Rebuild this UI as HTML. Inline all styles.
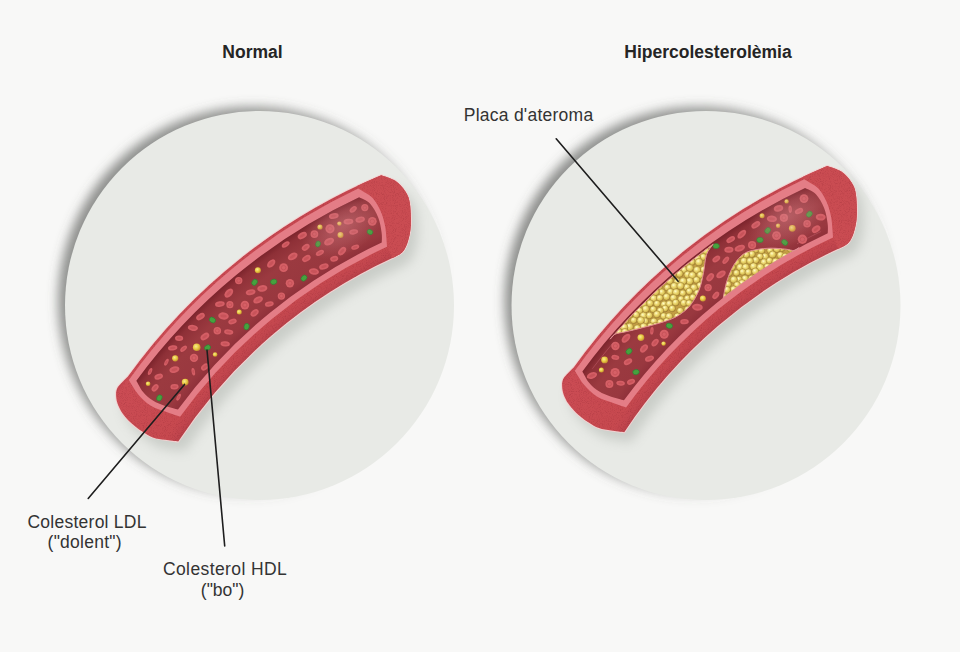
<!DOCTYPE html><html><head><meta charset="utf-8"><style>
html,body{margin:0;padding:0;background:#f8f8f7;}
body{width:960px;height:652px;overflow:hidden;position:relative;font-family:"Liberation Sans",sans-serif;}
svg{position:absolute;left:0;top:0;}
</style></head><body>
<svg width="960" height="652" viewBox="0 0 960 652">
<defs>
<filter id="csh" x="-20%" y="-20%" width="140%" height="140%"><feGaussianBlur stdDeviation="5.5"/></filter>
<filter id="speck" x="0" y="0" width="100%" height="100%"><feTurbulence type="fractalNoise" baseFrequency="1.1" numOctaves="1" seed="4" result="n"/><feColorMatrix in="n" type="matrix" values="0 0 0 0 0  0 0 0 0 0  0 0 0 0 0  0 0 0 -3 1.55" result="a"/><feComposite in="SourceGraphic" in2="a" operator="in"/></filter>
<filter id="blur6" x="-20%" y="-20%" width="140%" height="140%"><feGaussianBlur stdDeviation="6"/></filter>
<radialGradient id="lum" gradientUnits="userSpaceOnUse" cx="606.5" cy="724.8" r="582.6">
<stop offset="0.9131" stop-color="#90313a"/><stop offset="0.9269" stop-color="#99383f"/><stop offset="0.9646" stop-color="#9b3a40"/><stop offset="0.9897" stop-color="#8e3037"/><stop offset="1" stop-color="#7c242c"/></radialGradient>
<radialGradient id="wall" gradientUnits="userSpaceOnUse" cx="606.5" cy="724.8" r="592.4">
<stop offset="0.8668" stop-color="#b9424a"/><stop offset="0.8753" stop-color="#c2464e"/><stop offset="0.8879" stop-color="#c7494f"/><stop offset="0.9963" stop-color="#cb4c54"/><stop offset="1" stop-color="#c5464f"/></radialGradient>
<linearGradient id="shg" x1="0" y1="0.2" x2="1" y2="0.8"><stop offset="0" stop-color="#5a5c59" stop-opacity="0.7"/><stop offset="0.5" stop-color="#5a5c59" stop-opacity="0.55"/><stop offset="0.85" stop-color="#5a5c59" stop-opacity="0"/></linearGradient>
<radialGradient id="haze"><stop offset="0" stop-color="#d88a90" stop-opacity="0.45"/><stop offset="0.6" stop-color="#d08088" stop-opacity="0.22"/><stop offset="1" stop-color="#c87880" stop-opacity="0"/></radialGradient>
<radialGradient id="yb" cx="0.4" cy="0.38" r="0.6"><stop offset="0" stop-color="#f8ec90"/><stop offset="0.6" stop-color="#e6c840"/><stop offset="1" stop-color="#c89432"/></radialGradient>
<radialGradient id="ball" cx="0.4" cy="0.35" r="0.68"><stop offset="0" stop-color="#fffbcc"/><stop offset="0.35" stop-color="#f0df7c"/><stop offset="0.75" stop-color="#d8bd52"/><stop offset="1" stop-color="#a88634"/></radialGradient>
</defs>
<rect width="960" height="652" fill="#f8f8f7"/>
<circle cx="253" cy="301.5" r="195" fill="url(#shg)" filter="url(#csh)"/>
<circle cx="259.5" cy="305.5" r="194.5" fill="#e8eae6"/>
<circle cx="699.5" cy="301.5" r="195" fill="url(#shg)" filter="url(#csh)"/>
<circle cx="706" cy="305.5" r="194.5" fill="#e8eae6"/>
<g transform="translate(0,0)">
<path d="M127.72,376.81 A595.1,595.1 0 0 1 381.25,175.20 C383.64,176.16 391.64,178.37 395.60,181.00 C399.56,183.63 402.65,187.42 405.00,191.00 C407.35,194.58 408.73,196.83 409.70,202.50 C410.67,208.17 411.08,218.58 410.80,225.00 C410.52,231.42 409.38,236.50 408.00,241.00 C406.62,245.50 405.11,249.15 402.50,252.00 C399.89,254.85 394.04,257.07 392.35,258.09 A513.5,513.5 0 0 0 178.23,441.48 C176.06,441.20 169.42,440.48 165.20,439.80 C160.98,439.12 156.78,438.82 152.90,437.40 C149.02,435.98 145.57,433.75 141.90,431.30 C138.23,428.85 134.17,425.77 130.90,422.70 C127.63,419.63 124.55,416.18 122.30,412.90 C120.05,409.62 118.43,406.08 117.40,403.00 C116.37,399.92 116.10,396.90 116.10,394.40 C116.10,391.90 116.42,389.98 117.40,388.00 C118.38,386.02 120.28,384.36 122.00,382.50 C123.72,380.64 126.77,377.76 127.72,376.81Z" fill="#7d847b" opacity="0.28" transform="translate(7,10)" filter="url(#blur6)"/>
<path d="M127.72,376.81 A595.1,595.1 0 0 1 381.25,175.20 C383.64,176.16 391.64,178.37 395.60,181.00 C399.56,183.63 402.65,187.42 405.00,191.00 C407.35,194.58 408.73,196.83 409.70,202.50 C410.67,208.17 411.08,218.58 410.80,225.00 C410.52,231.42 409.38,236.50 408.00,241.00 C406.62,245.50 405.11,249.15 402.50,252.00 C399.89,254.85 394.04,257.07 392.35,258.09 A513.5,513.5 0 0 0 178.23,441.48 C176.06,441.20 169.42,440.48 165.20,439.80 C160.98,439.12 156.78,438.82 152.90,437.40 C149.02,435.98 145.57,433.75 141.90,431.30 C138.23,428.85 134.17,425.77 130.90,422.70 C127.63,419.63 124.55,416.18 122.30,412.90 C120.05,409.62 118.43,406.08 117.40,403.00 C116.37,399.92 116.10,396.90 116.10,394.40 C116.10,391.90 116.42,389.98 117.40,388.00 C118.38,386.02 120.28,384.36 122.00,382.50 C123.72,380.64 126.77,377.76 127.72,376.81Z" fill="none" stroke="#f3d2d2" stroke-width="2"/>
<path d="M127.72,376.81 A595.1,595.1 0 0 1 381.25,175.20 C383.64,176.16 391.64,178.37 395.60,181.00 C399.56,183.63 402.65,187.42 405.00,191.00 C407.35,194.58 408.73,196.83 409.70,202.50 C410.67,208.17 411.08,218.58 410.80,225.00 C410.52,231.42 409.38,236.50 408.00,241.00 C406.62,245.50 405.11,249.15 402.50,252.00 C399.89,254.85 394.04,257.07 392.35,258.09 A513.5,513.5 0 0 0 178.23,441.48 C176.06,441.20 169.42,440.48 165.20,439.80 C160.98,439.12 156.78,438.82 152.90,437.40 C149.02,435.98 145.57,433.75 141.90,431.30 C138.23,428.85 134.17,425.77 130.90,422.70 C127.63,419.63 124.55,416.18 122.30,412.90 C120.05,409.62 118.43,406.08 117.40,403.00 C116.37,399.92 116.10,396.90 116.10,394.40 C116.10,391.90 116.42,389.98 117.40,388.00 C118.38,386.02 120.28,384.36 122.00,382.50 C123.72,380.64 126.77,377.76 127.72,376.81Z" fill="url(#wall)"/>
<path d="M357.04,185.96 A595.1,595.1 0 0 1 381.25,175.20 C383.64,176.16 391.64,178.37 395.60,181.00 C399.56,183.63 402.65,187.42 405.00,191.00 C407.35,194.58 408.73,196.83 409.70,202.50 C410.67,208.17 411.08,218.58 410.80,225.00 C410.52,231.42 409.38,236.50 408.00,241.00 C406.62,245.50 405.11,249.15 402.50,252.00 C399.89,254.85 394.04,257.07 392.35,258.09 A513.5,513.5 0 0 0 392.22,258.14 L385.50,243.50 C385.65,242.58 386.48,240.98 386.40,238.00 C386.32,235.02 385.92,229.97 385.00,225.60 C384.08,221.23 382.97,216.40 380.90,211.80 C378.83,207.20 376.28,201.68 372.60,198.00 C368.92,194.32 361.10,191.08 358.80,189.70Z" fill="#ca4c52"/>
<path d="M127.72,376.81 A595.1,595.1 0 0 1 381.25,175.20 C383.64,176.16 391.64,178.37 395.60,181.00 C399.56,183.63 402.65,187.42 405.00,191.00 C407.35,194.58 408.73,196.83 409.70,202.50 C410.67,208.17 411.08,218.58 410.80,225.00 C410.52,231.42 409.38,236.50 408.00,241.00 C406.62,245.50 405.11,249.15 402.50,252.00 C399.89,254.85 394.04,257.07 392.35,258.09 A513.5,513.5 0 0 0 178.23,441.48 C176.06,441.20 169.42,440.48 165.20,439.80 C160.98,439.12 156.78,438.82 152.90,437.40 C149.02,435.98 145.57,433.75 141.90,431.30 C138.23,428.85 134.17,425.77 130.90,422.70 C127.63,419.63 124.55,416.18 122.30,412.90 C120.05,409.62 118.43,406.08 117.40,403.00 C116.37,399.92 116.10,396.90 116.10,394.40 C116.10,391.90 116.42,389.98 117.40,388.00 C118.38,386.02 120.28,384.36 122.00,382.50 C123.72,380.64 126.77,377.76 127.72,376.81Z" fill="#7a1a26" filter="url(#speck)" opacity="0.22"/>
<path d="M128.85,380.04 A592.3000000000001,592.3000000000001 0 0 1 358.23,188.50 C360.63,190.08 368.82,194.12 372.60,198.00 C376.38,201.88 378.83,207.20 380.90,211.80 C382.97,216.40 384.08,221.23 385.00,225.60 C385.92,229.97 386.07,234.47 386.40,238.00 C386.73,241.53 386.91,245.32 387.01,246.78 A526.0,526.0 0 0 0 180.08,416.83 C177.60,415.96 170.13,413.49 165.20,411.60 C160.27,409.71 155.00,408.37 150.50,405.50 C146.00,402.63 141.81,398.64 138.20,394.40 C134.59,390.16 130.41,382.43 128.85,380.04Z" fill="#e47d86"/>
<path d="M136.36,380.71 A582.6,582.6 0 0 1 359.10,197.34 C360.90,198.36 366.73,200.17 369.90,203.50 C373.07,206.83 376.15,212.47 378.10,217.30 C380.05,222.13 380.99,228.28 381.60,232.50 C382.21,236.72 381.75,240.91 381.78,242.59 A532.0,532.0 0 0 0 177.97,409.55 C175.84,408.97 169.38,407.59 165.20,406.10 C161.02,404.61 156.58,402.95 152.90,400.60 C149.22,398.25 145.86,395.31 143.10,392.00 C140.34,388.69 137.49,382.59 136.36,380.71Z" fill="url(#lum)"/>
<circle cx="185.2" cy="382.1" r="3.4" fill="url(#yb)"/>
<ellipse transform="translate(207.5,347.6) rotate(58)" rx="2.6" ry="3.2" fill="#46a23e" stroke="#2f7c34" stroke-width="0.6"/>
<circle cx="196.7" cy="347.3" r="3.8" fill="url(#yb)"/>
<circle cx="175.2" cy="358.3" r="3.1" fill="url(#yb)"/>
<circle cx="215.1" cy="354.5" r="2.3" fill="url(#yb)"/>
<circle cx="148.1" cy="383.7" r="2.3" fill="url(#yb)"/>
<ellipse transform="translate(159.4,397.9) rotate(27)" rx="2.6" ry="3.2" fill="#46a23e" stroke="#2f7c34" stroke-width="0.6"/>
<circle cx="340.5" cy="235.0" r="3.0" fill="url(#yb)"/>
<circle cx="320.0" cy="227.0" r="2.6" fill="url(#yb)"/>
<ellipse transform="translate(370.0,232.0) rotate(117)" rx="2.4" ry="3.0" fill="#46a23e" stroke="#2f7c34" stroke-width="0.6"/>
<ellipse transform="translate(318.0,244.0) rotate(13)" rx="2.4" ry="3.0" fill="#46a23e" stroke="#2f7c34" stroke-width="0.6"/>
<circle cx="339.4" cy="223.6" r="2.2" fill="url(#yb)"/>
<circle cx="239.3" cy="312.1" r="2.5" fill="url(#yb)"/>
<circle cx="257.9" cy="270.2" r="3.0" fill="url(#yb)"/>
<ellipse transform="translate(246.6,326.6) rotate(13)" rx="2.6" ry="3.3" fill="#46a23e" stroke="#2f7c34" stroke-width="0.6"/>
<ellipse transform="translate(212.4,320.0) rotate(123)" rx="2.6" ry="3.3" fill="#46a23e" stroke="#2f7c34" stroke-width="0.6"/>
<ellipse transform="translate(304.0,278.1) rotate(42)" rx="2.6" ry="3.3" fill="#46a23e" stroke="#2f7c34" stroke-width="0.6"/>
<ellipse transform="translate(273.7,281.8) rotate(71)" rx="2.6" ry="3.3" fill="#46a23e" stroke="#2f7c34" stroke-width="0.6"/>
<ellipse transform="translate(254.6,282.3) rotate(34)" rx="2.6" ry="3.3" fill="#46a23e" stroke="#2f7c34" stroke-width="0.6"/>
<g transform="translate(228.7,332.0) rotate(7)"><ellipse rx="4.6" ry="2.6" fill="#d45e65"/><ellipse rx="2.8" ry="1.1" fill="#c8535a"/></g>
<g transform="translate(225.2,343.8) rotate(5)"><ellipse rx="4.7" ry="2.6" fill="#d45e65"/><ellipse rx="2.8" ry="1.1" fill="#c8535a"/></g>
<g transform="translate(158.7,376.7) rotate(-19)"><ellipse rx="4.4" ry="2.8" fill="#d45e65"/><ellipse rx="2.7" ry="1.2" fill="#c8535a"/></g>
<g transform="translate(269.3,304.0) rotate(-12)"><ellipse rx="4.5" ry="2.6" fill="#d45e65"/><ellipse rx="2.7" ry="1.1" fill="#c8535a"/></g>
<g transform="translate(313.9,271.5) rotate(8)"><ellipse rx="5.1" ry="3.3" fill="#d45e65"/><ellipse rx="3.1" ry="1.4" fill="#c8535a"/></g>
<circle cx="281.4" cy="296.1" r="3.7" fill="#d66066"/><circle cx="281.4" cy="296.1" r="1.9" fill="none" stroke="#c8535a" stroke-width="1"/>
<g transform="translate(323.9,266.5) rotate(-17)"><ellipse rx="4.9" ry="3.0" fill="#d45e65"/><ellipse rx="2.9" ry="1.3" fill="#c8535a"/></g>
<g transform="translate(353.2,209.4) rotate(-39)"><ellipse rx="4.1" ry="2.6" fill="#d45e65"/><ellipse rx="2.5" ry="1.1" fill="#c8535a"/></g>
<circle cx="238.7" cy="280.6" r="3.7" fill="#d66066"/><circle cx="238.7" cy="280.6" r="1.9" fill="none" stroke="#c8535a" stroke-width="1"/>
<g transform="translate(166.4,362.2) rotate(26)"><ellipse rx="1.7" ry="3.8" fill="#d45e65"/><ellipse rx="1.0" ry="1.6" fill="#c8535a"/></g>
<g transform="translate(353.7,231.9) rotate(-10)"><ellipse rx="4.5" ry="2.6" fill="#d45e65"/><ellipse rx="2.7" ry="1.1" fill="#c8535a"/></g>
<circle cx="372.3" cy="221.3" r="4.4" fill="#d66066"/><circle cx="372.3" cy="221.3" r="2.2" fill="none" stroke="#c8535a" stroke-width="1"/>
<g transform="translate(204.9,367.0) rotate(-39)"><ellipse rx="4.3" ry="2.9" fill="#d45e65"/><ellipse rx="2.6" ry="1.2" fill="#c8535a"/></g>
<g transform="translate(285.7,244.5) rotate(-34)"><ellipse rx="4.4" ry="2.4" fill="#d45e65"/><ellipse rx="2.6" ry="1.0" fill="#c8535a"/></g>
<circle cx="229.9" cy="304.7" r="3.6" fill="#d66066"/><circle cx="229.9" cy="304.7" r="1.8" fill="none" stroke="#c8535a" stroke-width="1"/>
<g transform="translate(204.9,336.5) rotate(-35)"><ellipse rx="4.8" ry="3.1" fill="#d45e65"/><ellipse rx="2.9" ry="1.3" fill="#c8535a"/></g>
<g transform="translate(174.5,386.8) rotate(-3)"><ellipse rx="4.1" ry="2.7" fill="#d45e65"/><ellipse rx="2.5" ry="1.1" fill="#c8535a"/></g>
<g transform="translate(262.3,288.4) rotate(-8)"><ellipse rx="5.1" ry="3.3" fill="#d45e65"/><ellipse rx="3.0" ry="1.4" fill="#c8535a"/></g>
<g transform="translate(228.8,293.1) rotate(-47)"><ellipse rx="5.3" ry="3.4" fill="#d45e65"/><ellipse rx="3.2" ry="1.4" fill="#c8535a"/></g>
<circle cx="194.0" cy="357.9" r="4.2" fill="#d66066"/><circle cx="194.0" cy="357.9" r="2.1" fill="none" stroke="#c8535a" stroke-width="1"/>
<circle cx="283.6" cy="267.7" r="4.4" fill="#d66066"/><circle cx="283.6" cy="267.7" r="2.2" fill="none" stroke="#c8535a" stroke-width="1"/>
<g transform="translate(271.2,263.5) rotate(-45)"><ellipse rx="5.0" ry="3.1" fill="#d45e65"/><ellipse rx="3.0" ry="1.3" fill="#c8535a"/></g>
<g transform="translate(319.9,252.9) rotate(-28)"><ellipse rx="4.4" ry="2.5" fill="#d45e65"/><ellipse rx="2.6" ry="1.0" fill="#c8535a"/></g>
<g transform="translate(333.8,216.0) rotate(-8)"><ellipse rx="4.9" ry="2.9" fill="#d45e65"/><ellipse rx="2.9" ry="1.2" fill="#c8535a"/></g>
<circle cx="289.9" cy="283.2" r="4.2" fill="#d66066"/><circle cx="289.9" cy="283.2" r="2.1" fill="none" stroke="#c8535a" stroke-width="1"/>
<g transform="translate(254.6,312.9) rotate(-40)"><ellipse rx="4.6" ry="3.0" fill="#d45e65"/><ellipse rx="2.8" ry="1.3" fill="#c8535a"/></g>
<g transform="translate(355.2,247.2) rotate(-18)"><ellipse rx="4.1" ry="2.3" fill="#d45e65"/><ellipse rx="2.5" ry="1.0" fill="#c8535a"/></g>
<g transform="translate(258.1,299.9) rotate(-26)"><ellipse rx="5.1" ry="3.3" fill="#d45e65"/><ellipse rx="3.0" ry="1.4" fill="#c8535a"/></g>
<g transform="translate(250.6,292.2) rotate(-13)"><ellipse rx="4.9" ry="2.8" fill="#d45e65"/><ellipse rx="3.0" ry="1.2" fill="#c8535a"/></g>
<g transform="translate(292.7,256.4) rotate(-30)"><ellipse rx="5.2" ry="3.4" fill="#d45e65"/><ellipse rx="3.1" ry="1.4" fill="#c8535a"/></g>
<g transform="translate(192.9,327.9) rotate(7)"><ellipse rx="5.1" ry="3.0" fill="#d45e65"/><ellipse rx="3.1" ry="1.3" fill="#c8535a"/></g>
<g transform="translate(150.1,371.5) rotate(24)"><ellipse rx="1.7" ry="3.8" fill="#d45e65"/><ellipse rx="1.0" ry="1.6" fill="#c8535a"/></g>
<g transform="translate(360.2,219.6) rotate(-13)"><ellipse rx="4.8" ry="3.0" fill="#d45e65"/><ellipse rx="2.9" ry="1.3" fill="#c8535a"/></g>
<g transform="translate(232.5,321.5) rotate(-16)"><ellipse rx="4.3" ry="2.6" fill="#d45e65"/><ellipse rx="2.6" ry="1.1" fill="#c8535a"/></g>
<circle cx="364.8" cy="207.6" r="3.6" fill="#d66066"/><circle cx="364.8" cy="207.6" r="1.8" fill="none" stroke="#c8535a" stroke-width="1"/>
<g transform="translate(329.1,241.6) rotate(-26)"><ellipse rx="5.3" ry="3.4" fill="#d45e65"/><ellipse rx="3.2" ry="1.4" fill="#c8535a"/></g>
<g transform="translate(302.3,235.6) rotate(-28)"><ellipse rx="4.9" ry="3.1" fill="#d45e65"/><ellipse rx="2.9" ry="1.3" fill="#c8535a"/></g>
<g transform="translate(183.6,348.7) rotate(-42)"><ellipse rx="4.0" ry="2.2" fill="#d45e65"/><ellipse rx="2.4" ry="0.9" fill="#c8535a"/></g>
<g transform="translate(179.1,338.2) rotate(2)"><ellipse rx="4.1" ry="2.8" fill="#d45e65"/><ellipse rx="2.5" ry="1.2" fill="#c8535a"/></g>
<g transform="translate(334.2,258.8) rotate(-15)"><ellipse rx="4.1" ry="2.8" fill="#d45e65"/><ellipse rx="2.5" ry="1.2" fill="#c8535a"/></g>
<g transform="translate(178.6,397.2) rotate(26)"><ellipse rx="1.7" ry="3.8" fill="#d45e65"/><ellipse rx="1.0" ry="1.6" fill="#c8535a"/></g>
<circle cx="244.9" cy="305.1" r="4.3" fill="#d66066"/><circle cx="244.9" cy="305.1" r="2.1" fill="none" stroke="#c8535a" stroke-width="1"/>
<g transform="translate(306.4,258.5) rotate(-29)"><ellipse rx="4.6" ry="3.0" fill="#d45e65"/><ellipse rx="2.8" ry="1.3" fill="#c8535a"/></g>
<g transform="translate(193.3,371.7) rotate(-10)"><ellipse rx="1.7" ry="3.8" fill="#d45e65"/><ellipse rx="1.0" ry="1.6" fill="#c8535a"/></g>
<g transform="translate(219.9,304.1) rotate(-9)"><ellipse rx="4.9" ry="2.8" fill="#d45e65"/><ellipse rx="2.9" ry="1.2" fill="#c8535a"/></g>
<g transform="translate(342.1,251.1) rotate(-47)"><ellipse rx="4.9" ry="3.0" fill="#d45e65"/><ellipse rx="2.9" ry="1.3" fill="#c8535a"/></g>
<circle cx="330.0" cy="228.8" r="4.6" fill="#d66066"/><circle cx="330.0" cy="228.8" r="2.3" fill="none" stroke="#c8535a" stroke-width="1"/>
<g transform="translate(155.1,387.8) rotate(-49)"><ellipse rx="4.2" ry="2.8" fill="#d45e65"/><ellipse rx="2.5" ry="1.2" fill="#c8535a"/></g>
<g transform="translate(174.4,369.6) rotate(-14)"><ellipse rx="5.1" ry="3.3" fill="#d45e65"/><ellipse rx="3.1" ry="1.4" fill="#c8535a"/></g>
<g transform="translate(200.5,316.6) rotate(-34)"><ellipse rx="4.8" ry="2.9" fill="#d45e65"/><ellipse rx="2.9" ry="1.2" fill="#c8535a"/></g>
<g transform="translate(223.5,316.0) rotate(9)"><ellipse rx="5.3" ry="3.6" fill="#d45e65"/><ellipse rx="3.2" ry="1.5" fill="#c8535a"/></g>
<g transform="translate(348.4,221.6) rotate(-5)"><ellipse rx="4.9" ry="2.8" fill="#d45e65"/><ellipse rx="3.0" ry="1.2" fill="#c8535a"/></g>
<g transform="translate(172.7,347.9) rotate(-8)"><ellipse rx="4.7" ry="2.6" fill="#d45e65"/><ellipse rx="2.8" ry="1.1" fill="#c8535a"/></g>
<g transform="translate(305.7,247.3) rotate(-35)"><ellipse rx="4.3" ry="2.9" fill="#d45e65"/><ellipse rx="2.6" ry="1.2" fill="#c8535a"/></g>
<circle cx="217.3" cy="330.7" r="3.8" fill="#d66066"/><circle cx="217.3" cy="330.7" r="1.9" fill="none" stroke="#c8535a" stroke-width="1"/>
<circle cx="314.4" cy="234.1" r="3.9" fill="#d66066"/><circle cx="314.4" cy="234.1" r="1.9" fill="none" stroke="#c8535a" stroke-width="1"/>
<defs><clipPath id="lc1"><path d="M136.36,380.71 A582.6,582.6 0 0 1 359.10,197.34 C360.90,198.36 366.73,200.17 369.90,203.50 C373.07,206.83 376.15,212.47 378.10,217.30 C380.05,222.13 380.99,228.28 381.60,232.50 C382.21,236.72 381.75,240.91 381.78,242.59 A532.0,532.0 0 0 0 177.97,409.55 C175.84,408.97 169.38,407.59 165.20,406.10 C161.02,404.61 156.58,402.95 152.90,400.60 C149.22,398.25 145.86,395.31 143.10,392.00 C140.34,388.69 137.49,382.59 136.36,380.71Z"/></clipPath></defs>
<g clip-path="url(#lc1)"><ellipse cx="343" cy="225" rx="46" ry="28" transform="rotate(-32 343 225)" fill="url(#haze)"/></g>
</g>
<g transform="translate(446,-9.3)">
<path d="M127.72,376.81 A595.1,595.1 0 0 1 381.25,175.20 C383.64,176.16 391.64,178.37 395.60,181.00 C399.56,183.63 402.65,187.42 405.00,191.00 C407.35,194.58 408.73,196.83 409.70,202.50 C410.67,208.17 411.08,218.58 410.80,225.00 C410.52,231.42 409.38,236.50 408.00,241.00 C406.62,245.50 405.11,249.15 402.50,252.00 C399.89,254.85 394.04,257.07 392.35,258.09 A513.5,513.5 0 0 0 178.23,441.48 C176.06,441.20 169.42,440.48 165.20,439.80 C160.98,439.12 156.78,438.82 152.90,437.40 C149.02,435.98 145.57,433.75 141.90,431.30 C138.23,428.85 134.17,425.77 130.90,422.70 C127.63,419.63 124.55,416.18 122.30,412.90 C120.05,409.62 118.43,406.08 117.40,403.00 C116.37,399.92 116.10,396.90 116.10,394.40 C116.10,391.90 116.42,389.98 117.40,388.00 C118.38,386.02 120.28,384.36 122.00,382.50 C123.72,380.64 126.77,377.76 127.72,376.81Z" fill="#7d847b" opacity="0.28" transform="translate(7,10)" filter="url(#blur6)"/>
<path d="M127.72,376.81 A595.1,595.1 0 0 1 381.25,175.20 C383.64,176.16 391.64,178.37 395.60,181.00 C399.56,183.63 402.65,187.42 405.00,191.00 C407.35,194.58 408.73,196.83 409.70,202.50 C410.67,208.17 411.08,218.58 410.80,225.00 C410.52,231.42 409.38,236.50 408.00,241.00 C406.62,245.50 405.11,249.15 402.50,252.00 C399.89,254.85 394.04,257.07 392.35,258.09 A513.5,513.5 0 0 0 178.23,441.48 C176.06,441.20 169.42,440.48 165.20,439.80 C160.98,439.12 156.78,438.82 152.90,437.40 C149.02,435.98 145.57,433.75 141.90,431.30 C138.23,428.85 134.17,425.77 130.90,422.70 C127.63,419.63 124.55,416.18 122.30,412.90 C120.05,409.62 118.43,406.08 117.40,403.00 C116.37,399.92 116.10,396.90 116.10,394.40 C116.10,391.90 116.42,389.98 117.40,388.00 C118.38,386.02 120.28,384.36 122.00,382.50 C123.72,380.64 126.77,377.76 127.72,376.81Z" fill="none" stroke="#f3d2d2" stroke-width="2"/>
<path d="M127.72,376.81 A595.1,595.1 0 0 1 381.25,175.20 C383.64,176.16 391.64,178.37 395.60,181.00 C399.56,183.63 402.65,187.42 405.00,191.00 C407.35,194.58 408.73,196.83 409.70,202.50 C410.67,208.17 411.08,218.58 410.80,225.00 C410.52,231.42 409.38,236.50 408.00,241.00 C406.62,245.50 405.11,249.15 402.50,252.00 C399.89,254.85 394.04,257.07 392.35,258.09 A513.5,513.5 0 0 0 178.23,441.48 C176.06,441.20 169.42,440.48 165.20,439.80 C160.98,439.12 156.78,438.82 152.90,437.40 C149.02,435.98 145.57,433.75 141.90,431.30 C138.23,428.85 134.17,425.77 130.90,422.70 C127.63,419.63 124.55,416.18 122.30,412.90 C120.05,409.62 118.43,406.08 117.40,403.00 C116.37,399.92 116.10,396.90 116.10,394.40 C116.10,391.90 116.42,389.98 117.40,388.00 C118.38,386.02 120.28,384.36 122.00,382.50 C123.72,380.64 126.77,377.76 127.72,376.81Z" fill="url(#wall)"/>
<path d="M357.04,185.96 A595.1,595.1 0 0 1 381.25,175.20 C383.64,176.16 391.64,178.37 395.60,181.00 C399.56,183.63 402.65,187.42 405.00,191.00 C407.35,194.58 408.73,196.83 409.70,202.50 C410.67,208.17 411.08,218.58 410.80,225.00 C410.52,231.42 409.38,236.50 408.00,241.00 C406.62,245.50 405.11,249.15 402.50,252.00 C399.89,254.85 394.04,257.07 392.35,258.09 A513.5,513.5 0 0 0 392.22,258.14 L385.50,243.50 C385.65,242.58 386.48,240.98 386.40,238.00 C386.32,235.02 385.92,229.97 385.00,225.60 C384.08,221.23 382.97,216.40 380.90,211.80 C378.83,207.20 376.28,201.68 372.60,198.00 C368.92,194.32 361.10,191.08 358.80,189.70Z" fill="#ca4c52"/>
<path d="M127.72,376.81 A595.1,595.1 0 0 1 381.25,175.20 C383.64,176.16 391.64,178.37 395.60,181.00 C399.56,183.63 402.65,187.42 405.00,191.00 C407.35,194.58 408.73,196.83 409.70,202.50 C410.67,208.17 411.08,218.58 410.80,225.00 C410.52,231.42 409.38,236.50 408.00,241.00 C406.62,245.50 405.11,249.15 402.50,252.00 C399.89,254.85 394.04,257.07 392.35,258.09 A513.5,513.5 0 0 0 178.23,441.48 C176.06,441.20 169.42,440.48 165.20,439.80 C160.98,439.12 156.78,438.82 152.90,437.40 C149.02,435.98 145.57,433.75 141.90,431.30 C138.23,428.85 134.17,425.77 130.90,422.70 C127.63,419.63 124.55,416.18 122.30,412.90 C120.05,409.62 118.43,406.08 117.40,403.00 C116.37,399.92 116.10,396.90 116.10,394.40 C116.10,391.90 116.42,389.98 117.40,388.00 C118.38,386.02 120.28,384.36 122.00,382.50 C123.72,380.64 126.77,377.76 127.72,376.81Z" fill="#7a1a26" filter="url(#speck)" opacity="0.22"/>
<path d="M128.85,380.04 A592.3000000000001,592.3000000000001 0 0 1 358.23,188.50 C360.63,190.08 368.82,194.12 372.60,198.00 C376.38,201.88 378.83,207.20 380.90,211.80 C382.97,216.40 384.08,221.23 385.00,225.60 C385.92,229.97 386.07,234.47 386.40,238.00 C386.73,241.53 386.91,245.32 387.01,246.78 A526.0,526.0 0 0 0 180.08,416.83 C177.60,415.96 170.13,413.49 165.20,411.60 C160.27,409.71 155.00,408.37 150.50,405.50 C146.00,402.63 141.81,398.64 138.20,394.40 C134.59,390.16 130.41,382.43 128.85,380.04Z" fill="#e47d86"/>
<path d="M136.36,380.71 A582.6,582.6 0 0 1 359.10,197.34 C360.90,198.36 366.73,200.17 369.90,203.50 C373.07,206.83 376.15,212.47 378.10,217.30 C380.05,222.13 380.99,228.28 381.60,232.50 C382.21,236.72 381.75,240.91 381.78,242.59 A532.0,532.0 0 0 0 177.97,409.55 C175.84,408.97 169.38,407.59 165.20,406.10 C161.02,404.61 156.58,402.95 152.90,400.60 C149.22,398.25 145.86,395.31 143.10,392.00 C140.34,388.69 137.49,382.59 136.36,380.71Z" fill="url(#lum)"/>
<defs><clipPath id="pc1"><path d="M164.10,348.49 A580.8000000000001,580.8000000000001 0 0 1 267.22,253.40 C266.10,255.16 262.12,259.23 260.50,264.00 C258.88,268.77 258.75,276.08 257.50,282.00 C256.25,287.92 255.25,294.00 253.00,299.50 C250.75,305.00 247.50,310.75 244.00,315.00 C240.50,319.25 236.33,322.33 232.00,325.00 C227.67,327.67 223.92,329.00 218.00,331.00 C212.08,333.00 202.83,335.33 196.50,337.00 C190.17,338.67 184.58,339.92 180.00,341.00 C175.42,342.08 171.65,342.25 169.00,343.50 C166.35,344.75 164.92,347.66 164.10,348.49Z"/></clipPath><clipPath id="pc2"><path d="M277.24,306.94 C277.86,304.11 279.21,295.49 281.00,290.00 C282.79,284.51 285.17,278.50 288.00,274.00 C290.83,269.50 294.33,265.50 298.00,263.00 C301.67,260.50 305.50,259.92 310.00,259.00 C314.50,258.08 320.00,257.58 325.00,257.50 C330.00,257.42 336.17,258.12 340.00,258.50 C343.83,258.88 345.80,260.05 348.00,259.80 C350.20,259.55 352.32,257.45 353.18,256.98 A532.0,532.0 0 0 0 277.24,306.94Z"/></clipPath></defs>
<circle cx="346.3" cy="237.6" r="3.4" fill="url(#yb)"/>
<circle cx="158.6" cy="369.2" r="3.4" fill="url(#yb)"/>
<circle cx="340.6" cy="210.7" r="2.2" fill="url(#yb)"/>
<circle cx="332.1" cy="235.0" r="2.2" fill="url(#yb)"/>
<circle cx="316.1" cy="225.1" r="2.5" fill="url(#yb)"/>
<circle cx="194.9" cy="346.9" r="3.4" fill="url(#yb)"/>
<circle cx="256.9" cy="307.7" r="3.0" fill="url(#yb)"/>
<circle cx="217.6" cy="352.9" r="2.2" fill="url(#yb)"/>
<circle cx="155.4" cy="379.3" r="2.5" fill="url(#yb)"/>
<ellipse transform="translate(321.7,239.8) rotate(39)" rx="2.6" ry="3.3" fill="#46a23e" stroke="#2f7c34" stroke-width="0.6"/>
<ellipse transform="translate(223.3,335.1) rotate(102)" rx="2.6" ry="3.3" fill="#46a23e" stroke="#2f7c34" stroke-width="0.6"/>
<ellipse transform="translate(183.0,360.6) rotate(48)" rx="2.6" ry="3.3" fill="#46a23e" stroke="#2f7c34" stroke-width="0.6"/>
<ellipse transform="translate(338.7,251.7) rotate(129)" rx="2.6" ry="3.3" fill="#46a23e" stroke="#2f7c34" stroke-width="0.6"/>
<ellipse transform="translate(363.3,223.5) rotate(44)" rx="2.6" ry="3.3" fill="#46a23e" stroke="#2f7c34" stroke-width="0.6"/>
<ellipse transform="translate(190.0,381.4) rotate(77)" rx="2.6" ry="3.3" fill="#46a23e" stroke="#2f7c34" stroke-width="0.6"/>
<ellipse transform="translate(270.1,255.3) rotate(90)" rx="2.6" ry="3.3" fill="#46a23e" stroke="#2f7c34" stroke-width="0.6"/>
<ellipse transform="translate(314.0,249.2) rotate(90)" rx="2.6" ry="3.3" fill="#46a23e" stroke="#2f7c34" stroke-width="0.6"/>
<g transform="translate(332.5,217.7) rotate(-16)"><ellipse rx="4.8" ry="3.2" fill="#d45e65"/><ellipse rx="2.9" ry="1.3" fill="#c8535a"/></g>
<g transform="translate(205.9,340.1) rotate(5)"><ellipse rx="1.7" ry="3.8" fill="#d45e65"/><ellipse rx="1.0" ry="1.6" fill="#c8535a"/></g>
<circle cx="358.0" cy="207.9" r="4.4" fill="#d66066"/><circle cx="358.0" cy="207.9" r="2.2" fill="none" stroke="#c8535a" stroke-width="1"/>
<g transform="translate(344.2,218.5) rotate(-3)"><ellipse rx="1.7" ry="3.8" fill="#d45e65"/><ellipse rx="1.0" ry="1.6" fill="#c8535a"/></g>
<g transform="translate(198.0,357.7) rotate(-47)"><ellipse rx="4.8" ry="3.0" fill="#d45e65"/><ellipse rx="2.9" ry="1.3" fill="#c8535a"/></g>
<circle cx="169.1" cy="381.9" r="4.6" fill="#d66066"/><circle cx="169.1" cy="381.9" r="2.3" fill="none" stroke="#c8535a" stroke-width="1"/>
<g transform="translate(282.9,259.1) rotate(-4)"><ellipse rx="4.6" ry="3.0" fill="#d45e65"/><ellipse rx="2.8" ry="1.3" fill="#c8535a"/></g>
<g transform="translate(270.3,268.3) rotate(-34)"><ellipse rx="4.3" ry="2.7" fill="#d45e65"/><ellipse rx="2.6" ry="1.1" fill="#c8535a"/></g>
<circle cx="163.4" cy="393.3" r="4.0" fill="#d66066"/><circle cx="163.4" cy="393.3" r="2.0" fill="none" stroke="#c8535a" stroke-width="1"/>
<g transform="translate(174.6,392.5) rotate(5)"><ellipse rx="4.3" ry="2.5" fill="#d45e65"/><ellipse rx="2.6" ry="1.0" fill="#c8535a"/></g>
<g transform="translate(169.3,366.7) rotate(9)"><ellipse rx="4.0" ry="2.5" fill="#d45e65"/><ellipse rx="2.4" ry="1.0" fill="#c8535a"/></g>
<g transform="translate(325.9,228.1) rotate(4)"><ellipse rx="5.1" ry="3.3" fill="#d45e65"/><ellipse rx="3.1" ry="1.4" fill="#c8535a"/></g>
<g transform="translate(269.8,304.7) rotate(-49)"><ellipse rx="4.2" ry="2.7" fill="#d45e65"/><ellipse rx="2.5" ry="1.1" fill="#c8535a"/></g>
<circle cx="361.1" cy="233.1" r="3.8" fill="#d66066"/><circle cx="361.1" cy="233.1" r="1.9" fill="none" stroke="#c8535a" stroke-width="1"/>
<g transform="translate(275.0,283.7) rotate(-33)"><ellipse rx="5.3" ry="3.1" fill="#d45e65"/><ellipse rx="3.2" ry="1.3" fill="#c8535a"/></g>
<g transform="translate(264.2,286.5) rotate(-49)"><ellipse rx="4.6" ry="3.1" fill="#d45e65"/><ellipse rx="2.8" ry="1.3" fill="#c8535a"/></g>
<g transform="translate(209.1,351.9) rotate(-49)"><ellipse rx="4.4" ry="2.8" fill="#d45e65"/><ellipse rx="2.6" ry="1.2" fill="#c8535a"/></g>
<circle cx="306.1" cy="254.4" r="4.1" fill="#d66066"/><circle cx="306.1" cy="254.4" r="2.1" fill="none" stroke="#c8535a" stroke-width="1"/>
<g transform="translate(203.5,367.9) rotate(-19)"><ellipse rx="4.7" ry="2.8" fill="#d45e65"/><ellipse rx="2.8" ry="1.2" fill="#c8535a"/></g>
<circle cx="169.4" cy="355.3" r="4.2" fill="#d66066"/><circle cx="169.4" cy="355.3" r="2.1" fill="none" stroke="#c8535a" stroke-width="1"/>
<g transform="translate(295.8,243.5) rotate(-44)"><ellipse rx="5.4" ry="3.0" fill="#d45e65"/><ellipse rx="3.2" ry="1.2" fill="#c8535a"/></g>
<circle cx="218.2" cy="343.6" r="4.5" fill="#d66066"/><circle cx="218.2" cy="343.6" r="2.2" fill="none" stroke="#c8535a" stroke-width="1"/>
<g transform="translate(353.0,220.4) rotate(-25)"><ellipse rx="4.4" ry="2.7" fill="#d45e65"/><ellipse rx="2.6" ry="1.1" fill="#c8535a"/></g>
<g transform="translate(251.4,316.5) rotate(5)"><ellipse rx="5.4" ry="3.5" fill="#d45e65"/><ellipse rx="3.2" ry="1.5" fill="#c8535a"/></g>
<g transform="translate(146.0,384.8) rotate(-20)"><ellipse rx="5.3" ry="3.1" fill="#d45e65"/><ellipse rx="3.2" ry="1.3" fill="#c8535a"/></g>
<g transform="translate(238.5,330.9) rotate(-1)"><ellipse rx="4.3" ry="2.7" fill="#d45e65"/><ellipse rx="2.6" ry="1.1" fill="#c8535a"/></g>
<g transform="translate(370.1,238.5) rotate(-35)"><ellipse rx="4.7" ry="3.2" fill="#d45e65"/><ellipse rx="2.8" ry="1.3" fill="#c8535a"/></g>
<g transform="translate(284.7,248.9) rotate(-31)"><ellipse rx="4.8" ry="2.6" fill="#d45e65"/><ellipse rx="2.9" ry="1.1" fill="#c8535a"/></g>
<circle cx="356.4" cy="248.6" r="4.7" fill="#d66066"/><circle cx="356.4" cy="248.6" r="2.3" fill="none" stroke="#c8535a" stroke-width="1"/>
<g transform="translate(185.0,391.1) rotate(-21)"><ellipse rx="4.2" ry="2.7" fill="#d45e65"/><ellipse rx="2.5" ry="1.1" fill="#c8535a"/></g>
<g transform="translate(309.8,234.2) rotate(-32)"><ellipse rx="4.9" ry="2.9" fill="#d45e65"/><ellipse rx="3.0" ry="1.2" fill="#c8535a"/></g>
<circle cx="262.1" cy="296.9" r="3.7" fill="#d66066"/><circle cx="262.1" cy="296.9" r="1.8" fill="none" stroke="#c8535a" stroke-width="1"/>
<circle cx="337.9" cy="227.1" r="4.1" fill="#d66066"/><circle cx="337.9" cy="227.1" r="2.0" fill="none" stroke="#c8535a" stroke-width="1"/>
<g transform="translate(182.0,371.0) rotate(-29)"><ellipse rx="4.5" ry="2.8" fill="#d45e65"/><ellipse rx="2.7" ry="1.2" fill="#c8535a"/></g>
<g transform="translate(293.8,257.5) rotate(-19)"><ellipse rx="5.4" ry="3.2" fill="#d45e65"/><ellipse rx="3.2" ry="1.4" fill="#c8535a"/></g>
<g transform="translate(180.0,347.6) rotate(-47)"><ellipse rx="5.4" ry="3.3" fill="#d45e65"/><ellipse rx="3.2" ry="1.4" fill="#c8535a"/></g>
<g transform="translate(374.7,226.4) rotate(2)"><ellipse rx="5.0" ry="3.4" fill="#d45e65"/><ellipse rx="3.0" ry="1.4" fill="#c8535a"/></g>
<g transform="translate(279.8,269.6) rotate(-49)"><ellipse rx="4.3" ry="2.4" fill="#d45e65"/><ellipse rx="2.6" ry="1.0" fill="#c8535a"/></g>
<circle cx="330.5" cy="244.9" r="4.4" fill="#d66066"/><circle cx="330.5" cy="244.9" r="2.2" fill="none" stroke="#c8535a" stroke-width="1"/>
<path d="M146.41,378.09 C146.79,377.59 147.93,376.08 148.69,375.08 C149.46,374.08 150.23,373.08 151.00,372.08 C151.77,371.09 152.54,370.09 153.32,369.10 C154.10,368.11 154.88,367.12 155.67,366.13 C156.45,365.15 157.24,364.16 158.03,363.18 C158.82,362.20 159.62,361.22 160.41,360.25 C161.21,359.27 162.01,358.30 162.82,357.33 C163.62,356.36 164.43,355.39 165.24,354.42 C166.05,353.46 167.27,352.01 167.68,351.53" fill="none" stroke="#c86470" stroke-width="0.8" opacity="0.6"/>
<path d="M351.04,253.03 C351.47,252.79 352.78,252.09 353.65,251.62 C354.52,251.16 355.39,250.69 356.26,250.23 C357.14,249.77 358.01,249.31 358.89,248.86 C359.77,248.40 360.64,247.95 361.52,247.50 C362.40,247.04 363.28,246.60 364.16,246.15 C365.05,245.70 365.93,245.26 366.81,244.82 C367.70,244.38 368.58,243.94 369.47,243.50 C370.35,243.06 371.24,242.63 372.13,242.20 C373.02,241.77 374.36,241.13 374.80,240.91" fill="none" stroke="#c86470" stroke-width="0.8" opacity="0.6"/>
<path d="M164.10,348.49 A580.8000000000001,580.8000000000001 0 0 1 267.22,253.40 C266.10,255.16 262.12,259.23 260.50,264.00 C258.88,268.77 258.75,276.08 257.50,282.00 C256.25,287.92 255.25,294.00 253.00,299.50 C250.75,305.00 247.50,310.75 244.00,315.00 C240.50,319.25 236.33,322.33 232.00,325.00 C227.67,327.67 223.92,329.00 218.00,331.00 C212.08,333.00 202.83,335.33 196.50,337.00 C190.17,338.67 184.58,339.92 180.00,341.00 C175.42,342.08 171.65,342.25 169.00,343.50 C166.35,344.75 164.92,347.66 164.10,348.49Z" fill="#c49e44"/>
<g clip-path="url(#pc1)" fill="url(#ball)" stroke="#9c7a34" stroke-width="0.55"><circle cx="265.0" cy="254.9" r="3.55"/><circle cx="259.9" cy="260.2" r="3.54"/><circle cx="257.3" cy="266.3" r="3.49"/><circle cx="251.2" cy="267.7" r="3.66"/><circle cx="245.0" cy="267.9" r="3.42"/><circle cx="245.9" cy="271.4" r="3.37"/><circle cx="252.9" cy="271.5" r="3.84"/><circle cx="240.3" cy="272.5" r="3.73"/><circle cx="238.2" cy="279.2" r="3.44"/><circle cx="243.8" cy="277.4" r="3.75"/><circle cx="231.4" cy="279.5" r="3.51"/><circle cx="257.7" cy="279.0" r="3.61"/><circle cx="251.0" cy="279.4" r="3.74"/><circle cx="241.7" cy="284.0" r="3.71"/><circle cx="246.3" cy="284.7" r="3.72"/><circle cx="233.6" cy="283.1" r="3.58"/><circle cx="226.8" cy="283.9" r="3.49"/><circle cx="254.4" cy="284.3" r="3.57"/><circle cx="223.7" cy="290.3" r="3.56"/><circle cx="257.8" cy="290.5" r="3.83"/><circle cx="250.5" cy="289.3" r="3.43"/><circle cx="243.6" cy="290.6" r="3.83"/><circle cx="231.3" cy="290.8" r="3.61"/><circle cx="237.1" cy="290.6" r="3.77"/><circle cx="228.2" cy="295.5" r="3.72"/><circle cx="213.1" cy="296.2" r="3.36"/><circle cx="240.9" cy="296.6" r="3.45"/><circle cx="254.0" cy="294.8" r="3.57"/><circle cx="234.5" cy="295.3" r="3.67"/><circle cx="221.4" cy="296.9" r="3.35"/><circle cx="247.9" cy="297.0" r="3.67"/><circle cx="243.3" cy="300.6" r="3.36"/><circle cx="224.4" cy="301.2" r="3.48"/><circle cx="215.9" cy="301.6" r="3.44"/><circle cx="236.8" cy="302.5" r="3.36"/><circle cx="209.7" cy="301.3" r="3.78"/><circle cx="230.2" cy="301.7" r="3.72"/><circle cx="251.3" cy="302.2" r="3.40"/><circle cx="207.7" cy="307.8" r="3.57"/><circle cx="220.5" cy="306.2" r="3.58"/><circle cx="227.5" cy="307.3" r="3.61"/><circle cx="235.0" cy="308.4" r="3.37"/><circle cx="241.3" cy="307.7" r="3.33"/><circle cx="246.8" cy="306.7" r="3.34"/><circle cx="213.8" cy="307.3" r="3.41"/><circle cx="200.6" cy="308.0" r="3.30"/><circle cx="237.9" cy="312.3" r="3.55"/><circle cx="243.1" cy="312.5" r="3.39"/><circle cx="204.0" cy="312.7" r="3.56"/><circle cx="211.0" cy="313.0" r="3.40"/><circle cx="218.1" cy="313.8" r="3.50"/><circle cx="197.5" cy="313.3" r="3.53"/><circle cx="223.4" cy="313.3" r="3.63"/><circle cx="229.7" cy="311.9" r="3.41"/><circle cx="219.1" cy="317.8" r="3.35"/><circle cx="214.2" cy="320.2" r="3.63"/><circle cx="226.2" cy="317.8" r="3.33"/><circle cx="241.7" cy="319.0" r="3.74"/><circle cx="234.2" cy="320.1" r="3.41"/><circle cx="199.7" cy="318.4" r="3.75"/><circle cx="207.3" cy="318.6" r="3.35"/><circle cx="193.5" cy="320.1" r="3.47"/><circle cx="190.2" cy="324.2" r="3.39"/><circle cx="183.3" cy="324.1" r="3.73"/><circle cx="197.5" cy="325.1" r="3.69"/><circle cx="210.9" cy="323.6" r="3.56"/><circle cx="217.7" cy="325.3" r="3.35"/><circle cx="223.1" cy="325.7" r="3.65"/><circle cx="203.4" cy="324.8" r="3.38"/><circle cx="231.4" cy="325.8" r="3.55"/><circle cx="199.2" cy="330.5" r="3.42"/><circle cx="179.4" cy="329.8" r="3.34"/><circle cx="187.7" cy="329.6" r="3.31"/><circle cx="194.8" cy="329.8" r="3.79"/><circle cx="207.9" cy="330.9" r="3.65"/><circle cx="220.7" cy="330.5" r="3.36"/><circle cx="214.4" cy="331.6" r="3.49"/><circle cx="209.5" cy="335.4" r="3.70"/><circle cx="204.7" cy="335.9" r="3.81"/><circle cx="197.7" cy="336.2" r="3.85"/><circle cx="171.3" cy="337.0" r="3.78"/><circle cx="191.3" cy="337.6" r="3.57"/><circle cx="183.6" cy="336.2" r="3.82"/><circle cx="178.1" cy="336.7" r="3.81"/><circle cx="187.0" cy="341.4" r="3.33"/><circle cx="173.0" cy="341.6" r="3.74"/><circle cx="178.9" cy="341.3" r="3.59"/><circle cx="166.7" cy="343.2" r="3.74"/></g>
<path d="M164.10,348.49 A580.8000000000001,580.8000000000001 0 0 1 267.22,253.40 C266.10,255.16 262.12,259.23 260.50,264.00 C258.88,268.77 258.75,276.08 257.50,282.00 C256.25,287.92 255.25,294.00 253.00,299.50 C250.75,305.00 247.50,310.75 244.00,315.00 C240.50,319.25 236.33,322.33 232.00,325.00 C227.67,327.67 223.92,329.00 218.00,331.00 C212.08,333.00 202.83,335.33 196.50,337.00 C190.17,338.67 184.58,339.92 180.00,341.00 C175.42,342.08 171.65,342.25 169.00,343.50 C166.35,344.75 164.92,347.66 164.10,348.49Z" fill="none" stroke="#e08a92" stroke-width="1"/>
<path d="M277.24,306.94 C277.86,304.11 279.21,295.49 281.00,290.00 C282.79,284.51 285.17,278.50 288.00,274.00 C290.83,269.50 294.33,265.50 298.00,263.00 C301.67,260.50 305.50,259.92 310.00,259.00 C314.50,258.08 320.00,257.58 325.00,257.50 C330.00,257.42 336.17,258.12 340.00,258.50 C343.83,258.88 345.80,260.05 348.00,259.80 C350.20,259.55 352.32,257.45 353.18,256.98 A532.0,532.0 0 0 0 277.24,306.94Z" fill="#c49e44"/>
<g clip-path="url(#pc2)" fill="url(#ball)" stroke="#9c7a34" stroke-width="0.55"><circle cx="344.8" cy="258.0" r="3.72"/><circle cx="309.6" cy="258.7" r="3.69"/><circle cx="335.6" cy="257.6" r="3.40"/><circle cx="324.1" cy="259.7" r="3.31"/><circle cx="302.9" cy="259.6" r="3.56"/><circle cx="330.9" cy="258.4" r="3.62"/><circle cx="315.6" cy="260.0" r="3.31"/><circle cx="305.9" cy="263.5" r="3.38"/><circle cx="300.2" cy="264.1" r="3.47"/><circle cx="334.4" cy="264.5" r="3.53"/><circle cx="319.0" cy="265.9" r="3.59"/><circle cx="294.4" cy="264.2" r="3.81"/><circle cx="339.1" cy="265.7" r="3.32"/><circle cx="326.6" cy="263.9" r="3.63"/><circle cx="313.9" cy="265.9" r="3.39"/><circle cx="309.8" cy="269.5" r="3.51"/><circle cx="297.9" cy="270.3" r="3.57"/><circle cx="318.1" cy="271.6" r="3.64"/><circle cx="304.0" cy="270.3" r="3.46"/><circle cx="323.5" cy="270.0" r="3.35"/><circle cx="329.6" cy="271.1" r="3.78"/><circle cx="289.9" cy="271.7" r="3.77"/><circle cx="321.3" cy="276.2" r="3.59"/><circle cx="294.2" cy="276.6" r="3.74"/><circle cx="286.0" cy="276.6" r="3.55"/><circle cx="307.6" cy="275.8" r="3.76"/><circle cx="314.4" cy="276.7" r="3.84"/><circle cx="299.6" cy="276.6" r="3.71"/><circle cx="296.6" cy="281.3" r="3.33"/><circle cx="302.4" cy="281.5" r="3.40"/><circle cx="309.3" cy="280.8" r="3.56"/><circle cx="290.5" cy="282.3" r="3.32"/><circle cx="283.1" cy="282.4" r="3.42"/><circle cx="299.0" cy="288.0" r="3.64"/><circle cx="293.0" cy="288.8" r="3.30"/><circle cx="287.8" cy="289.0" r="3.63"/><circle cx="305.8" cy="288.1" r="3.79"/><circle cx="296.1" cy="292.7" r="3.84"/><circle cx="282.0" cy="293.7" r="3.45"/><circle cx="291.1" cy="294.3" r="3.44"/><circle cx="287.6" cy="298.6" r="3.46"/><circle cx="281.0" cy="299.1" r="3.52"/><circle cx="277.8" cy="305.8" r="3.37"/></g>
<path d="M277.24,306.94 C277.86,304.11 279.21,295.49 281.00,290.00 C282.79,284.51 285.17,278.50 288.00,274.00 C290.83,269.50 294.33,265.50 298.00,263.00 C301.67,260.50 305.50,259.92 310.00,259.00 C314.50,258.08 320.00,257.58 325.00,257.50 C330.00,257.42 336.17,258.12 340.00,258.50 C343.83,258.88 345.80,260.05 348.00,259.80 C350.20,259.55 352.32,257.45 353.18,256.98 A532.0,532.0 0 0 0 277.24,306.94Z" fill="none" stroke="#e08a92" stroke-width="1"/>
<defs><clipPath id="lc2"><path d="M136.36,380.71 A582.6,582.6 0 0 1 359.10,197.34 C360.90,198.36 366.73,200.17 369.90,203.50 C373.07,206.83 376.15,212.47 378.10,217.30 C380.05,222.13 380.99,228.28 381.60,232.50 C382.21,236.72 381.75,240.91 381.78,242.59 A532.0,532.0 0 0 0 177.97,409.55 C175.84,408.97 169.38,407.59 165.20,406.10 C161.02,404.61 156.58,402.95 152.90,400.60 C149.22,398.25 145.86,395.31 143.10,392.00 C140.34,388.69 137.49,382.59 136.36,380.71Z"/></clipPath></defs>
<g clip-path="url(#lc2)"><ellipse cx="343" cy="225" rx="46" ry="28" transform="rotate(-32 343 225)" fill="url(#haze)"/></g>
</g>
<g stroke="#1e1e1e" stroke-width="1.6" fill="none" stroke-linecap="round">
<line x1="184.5" y1="384.4" x2="88.2" y2="498.5"/>
<line x1="207" y1="350" x2="224.7" y2="546"/>
<line x1="556.2" y1="138.8" x2="678.1" y2="281.3"/>
</g>
<g font-family="Liberation Sans, sans-serif" fill="#252525">
<text x="252.5" y="58" font-size="17.5" font-weight="bold" text-anchor="middle">Normal</text>
<text x="708" y="58" font-size="17.5" font-weight="bold" text-anchor="middle">Hipercolesterolèmia</text>
</g>
<g font-family="Liberation Sans, sans-serif" fill="#333" font-size="17.5" letter-spacing="0.25">
<text x="528.6" y="120.8" text-anchor="middle">Placa d'ateroma</text>
<text x="87.1" y="527.6" text-anchor="middle">Colesterol LDL</text>
<text x="84.7" y="548" text-anchor="middle">("dolent")</text>
<text x="225.1" y="575.4" letter-spacing="0.4" text-anchor="middle">Colesterol HDL</text>
<text x="222.6" y="595.8" letter-spacing="0" text-anchor="middle">("bo")</text>
</g>
</svg></body></html>
